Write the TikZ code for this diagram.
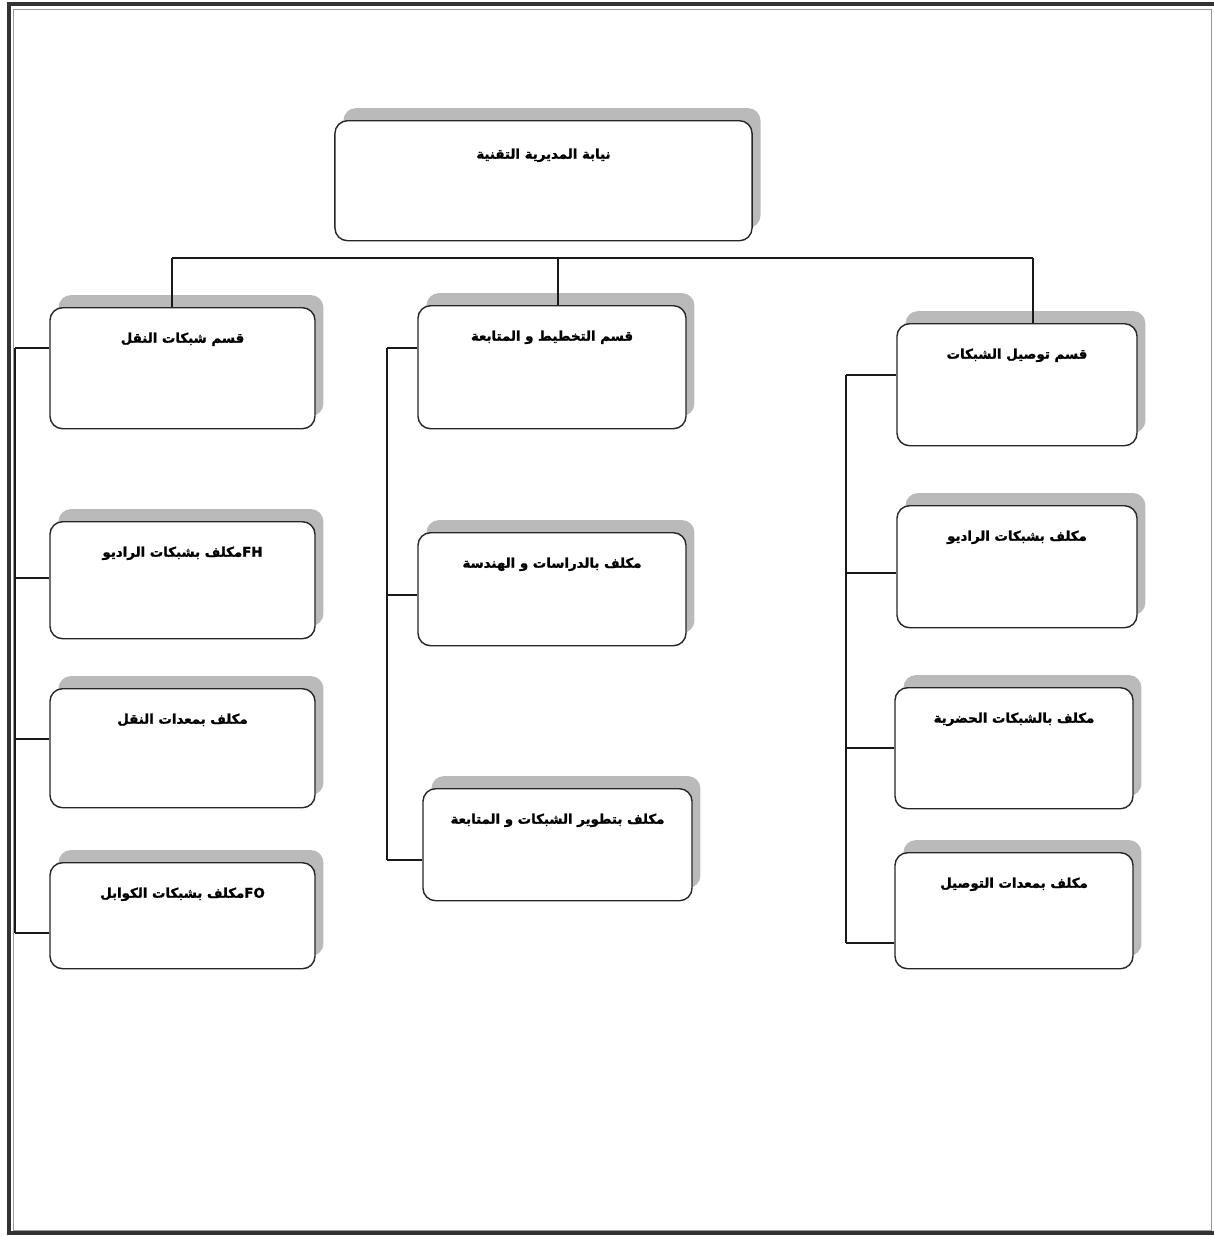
\documentclass[tikz,border=0pt]{standalone}
\usepackage{fontspec}
\usepackage{tikz}
\usetikzlibrary{shadows}
\TeXXeTstate=1
\newfontfamily\arabicfont[Script=Arabic, BoldFeatures={FakeBold=1.6}]{DejaVu Sans}
\newcommand{\artxt}[1]{\beginR #1\endR}
\colorlet{boxline}{black!85}
\colorlet{boxshade}{black!27}
\tikzset{
  unit/.style={draw=boxline, line width=1pt, rounded corners=9pt, fill=white,
    inner sep=0pt, anchor=north, text height=0.875cm,
    font=\arabicfont\bfseries\fontsize{9.5}{12}\selectfont,
    drop shadow={shadow xshift=6pt, shadow yshift=9pt, fill=boxshade, opacity=1}},
  wire/.style={draw=black!90, line width=0.8pt},
  frame/.style={draw=black!80, line width=2.4pt},
  inframe/.style={draw=black!40, line width=0.6pt},
}
\begin{document}
\begin{tikzpicture}[x=0.025cm,y=-0.025cm]
\useasboundingbox (0,0) rectangle (1214,1236);
\draw[inframe] (13,9) rectangle (1211.5,1230);
\draw[frame] (1214,4) -- (9,4) -- (9,1233) -- (1214,1233);
% head
\node[unit, minimum width=10.425cm, text height=0.95cm, text depth=2.05cm] (top) at (543.5,120) {\artxt{نيابة المديرية التقنية}};
% left column
\node[unit, minimum width=6.625cm, text depth=2.15cm]  (c1)  at (182.5,307) {\artxt{قسم شبكات النقل}};
\node[unit, minimum width=6.625cm, text depth=2.05cm]  (fh)  at (182.5,521) {\artxt{\beginL FH\endL{}مكلف بشبكات الراديو}};
\node[unit, minimum width=6.625cm, text depth=2.1cm]   (nql) at (182.5,688) {\artxt{مكلف بمعدات النقل}};
\node[unit, minimum width=6.625cm, text depth=1.775cm] (fo)  at (182.5,862) {\artxt{\beginL FO\endL{}مكلف بشبكات الكوابل}};
% middle column
\node[unit, minimum width=6.7cm, text depth=2.2cm]     (c2)  at (552,305)   {\artxt{قسم التخطيط و المتابعة}};
\node[unit, minimum width=6.7cm, text depth=1.95cm]    (st)  at (552,532)   {\artxt{مكلف بالدراسات و الهندسة}};
\node[unit, minimum width=6.725cm, text depth=1.925cm] (dev) at (557.5,788) {\artxt{مكلف بتطوير الشبكات و المتابعة}};
% right column
\node[unit, minimum width=6cm, text depth=2.175cm]     (c3)  at (1017,323)  {\artxt{قسم توصيل الشبكات}};
\node[unit, minimum width=6cm, text depth=2.175cm]     (rad) at (1017,505)  {\artxt{مكلف بشبكات الراديو}};
\node[unit, minimum width=5.95cm, text depth=2.15cm]   (urb) at (1014,687)  {\artxt{مكلف بالشبكات الحضرية}};
\node[unit, minimum width=5.95cm, text depth=2.025cm]  (eqp) at (1014,852)  {\artxt{مكلف بمعدات التوصيل}};
% bus and spines
\coordinate (b1) at (172,258);
\coordinate (b2) at (558,258);
\coordinate (b3) at (1033,258);
\coordinate (l1) at (15,348);  \coordinate (l2) at (15,578);
\coordinate (l3) at (15,739);  \coordinate (l4) at (15,933);
\coordinate (m1) at (387,348); \coordinate (m2) at (387,595);
\coordinate (m3) at (387,860);
\coordinate (r1) at (846,375); \coordinate (r2) at (846,573);
\coordinate (r3) at (846,748); \coordinate (r4) at (846,943);
\draw[wire] (b1) -- (b3);
\foreach \b/\n in {b1/c1, b2/c2, b3/c3}
  \draw[wire] (\b) -- (\b |- \n.north);
\draw[wire] (l1) -- (l4);
\draw[wire] (m1) -- (m3);
\draw[wire] (r1) -- (r4);
\foreach \s/\n in {l1/c1, l2/fh, l3/nql, l4/fo, m1/c2, m2/st, m3/dev, r1/c3, r2/rad, r3/urb, r4/eqp}
  \draw[wire] (\s) -- (\s -| \n.west);
\end{tikzpicture}
\end{document}
